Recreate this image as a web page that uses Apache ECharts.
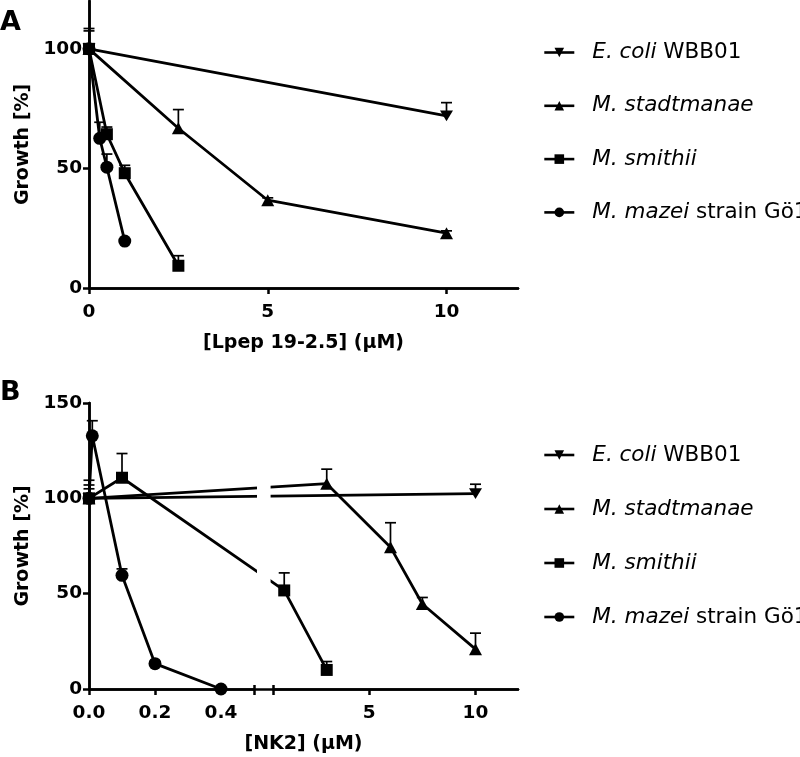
<!DOCTYPE html>
<html>
<head>
<meta charset="utf-8">
<script src="https://cdn.jsdelivr.net/npm/echarts@6/dist/echarts.min.js"></script>
<style>
html,body{margin:0;padding:0;background:#fff;}
#chart{width:800px;height:757px;}
</style>
</head>
<body>
<div id="chart"></div>
<script>
// ---------- DATA ----------
const seriesNames = ['E. coli WBB01', 'M. stadtmanae', 'M. smithii', 'M. mazei strain Gö1'];

// Panel A: [Lpep 19-2.5] (µM)
const ecoliA_x = [0, 10];
const ecoliA_y = [100, 72];
const ecoliA_err = [8.5, 5.5];
const stadA_x = [0, 2.5, 5, 10];
const stadA_y = [100, 66.8, 36.7, 22.9];
const stadA_err = [7.5, 7.8, 1, 1];
const smithA_x = [0, 0.5, 1, 2.5];
const smithA_y = [100, 64.3, 48, 9.3];
const smithA_err = [2, 3, 3.3, 4.2];
const mazeiA_x = [0, 0.3, 0.5, 1];
const mazeiA_y = [100, 62.6, 50.5, 19.6];
const mazeiA_err = [1, 6.7, 5.5, 0];

// Panel B: [NK2] (µM)
const ecoliB_x = [0, 10];
const ecoliB_y = [100, 102.5];
const ecoliB_err = [9.5, 4.9];
const stadB_x = [0, 3, 6, 7.5, 10];
const stadB_y = [100, 107.7, 74.4, 44.6, 20.9];
const stadB_err = [7, 7.6, 12.8, 3.4, 8.4];
const smithB_x = [0, 0.1, 1, 3];
const smithB_y = [100, 110.8, 51.7, 10];
const smithB_err = [5, 12.7, 9.2, 4.4];
const mazeiB_x = [0, 0.01, 0.1, 0.2, 0.4];
const mazeiB_y = [100, 132.8, 59.6, 13.3, 0];
const mazeiB_err = [0, 7.9, 3.4, 0, 0];

// Tick labels
const ticksA_x = [0, 5, 10];
const ticksA_y = [0, 50, 100];
const ticksB_y = [0, 50, 100, 150];
const ticksB_xLeft = [0, 0.2, 0.4];
const ticksB_xRight = [5, 10];

// ---------- LAYOUT ----------
const FONT = 'DejaVu Sans';
const GL = 89;            // grid left
const GW = 429;           // grid width
const A_TOP = 1, A_H = 287;
const B_TOP = 403, B_H = 286;
// broken x axis in panel B: segment [0,0.5] and [0.5,12]
const BRK = 0.5, XMAX_B = 12;
const L_W = 165, GAP = 19.6, R_W = GW - L_W - GAP;
function U(x) { // piecewise-linear broken-axis coordinate
  return x <= BRK ? x / BRK * L_W : L_W + GAP + (x - BRK) / (XMAX_B - BRK) * R_W;
}

const AX_W = 2.5;
const black = '#000';

function zip(xs, ys, tf) { return xs.map((x, i) => [tf ? tf(x) : x, ys[i]]); }
function zipErr(xs, ys, es, tf) { return xs.map((x, i) => [tf ? tf(x) : x, ys[i], es[i]]); }

function errRender(params, api) {
  const x = api.value(0), y = api.value(1), e = api.value(2);
  if (!(e > 0)) return null;
  const p0 = api.coord([x, y]);
  const p1 = api.coord([x, y + e]);
  const hw = 5.5;
  const st = { stroke: black, lineWidth: 1.7 };
  return {
    type: 'group', children: [
      { type: 'line', shape: { x1: p0[0], y1: p0[1], x2: p1[0], y2: p1[1] }, style: st },
      { type: 'line', shape: { x1: p1[0] - hw, y1: p1[1], x2: p1[0] + hw, y2: p1[1] }, style: st }
    ]
  };
}

const symbols = ['path://M0,0L10,0L5,9Z', 'triangle', 'rect', 'circle'];
const symSizes = [[13, 12], [13, 12], 12, 13];

function lineSeries(name, idx, data, xi, yi) {
  return {
    type: 'line', name: name, xAxisIndex: xi, yAxisIndex: yi, data: data,
    symbol: symbols[idx], symbolSize: symSizes[idx], symbolKeepAspect: true,
    showSymbol: true, showAllSymbol: true,
    lineStyle: { color: black, width: 2.8 },
    itemStyle: { color: black, borderWidth: 0 },
    z: 3, clip: false, silent: true
  };
}
function errSeries(data, xi, yi) {
  return {
    type: 'custom', xAxisIndex: xi, yAxisIndex: yi, data: data,
    renderItem: errRender, z: 2, silent: true, clip: false,
    dimensions: ['x', 'y', 'e'], encode: { x: 0, y: 1 }
  };
}

const tickLabel = { fontFamily: FONT, fontWeight: 'bold', fontSize: 18.5, color: black };
const nameStyle = { fontFamily: FONT, fontWeight: 'bold', fontSize: 19, color: black };
const lineAx = { show: true, lineStyle: { color: black, width: AX_W } };
const frameX = (gi, min, max) => ({
  gridIndex: gi, type: 'value', position: 'top', min: min, max: max,
  axisLine: lineAx, axisTick: { show: false }, axisLabel: { show: false }, splitLine: { show: false }
});
const frameY = (gi, min, max) => ({
  gridIndex: gi, type: 'value', position: 'right', min: min, max: max,
  axisLine: lineAx, axisTick: { show: false }, axisLabel: { show: false }, splitLine: { show: false }
});
const hiddenY = (gi) => ({ gridIndex: gi, type: 'value', min: 0, max: 150, show: false });

const legendBase = {
  orient: 'vertical', left: 538, itemWidth: 30, itemHeight: 12,
  data: seriesNames, selectedMode: false,
  lineStyle: { color: black, width: 2.6 },
  itemStyle: { color: black },
  textStyle: {
    fontFamily: FONT, fontSize: 21.5, color: black, lineHeight: 26, padding: [0, 0, 0, 13],
    rich: { i: { fontFamily: FONT, fontSize: 21.5, fontStyle: 'italic', color: black, lineHeight: 26 } }
  },
  formatter: function (n) {
    if (n === 'E. coli WBB01') return '{i|E. coli} WBB01';
    if (n === 'M. mazei strain Gö1') return '{i|M. mazei} strain Gö1';
    return '{i|' + n + '}';
  }
};

const option = {
  animation: false,
  backgroundColor: '#fff',
  grid: [
    { left: GL, top: A_TOP, width: GW, height: A_H },
    { left: GL, top: B_TOP, width: GW, height: B_H },
    { left: GL, top: B_TOP, width: L_W, height: B_H },
    { left: GL + L_W + GAP, top: B_TOP, width: R_W, height: B_H }
  ],
  xAxis: [
    { // 0: A bottom
      gridIndex: 0, type: 'value', position: 'bottom', min: 0, max: 12,
      axisLine: lineAx,
      axisTick: { show: true, length: 6, lineStyle: { color: black, width: AX_W }, customValues: ticksA_x },
      axisLabel: Object.assign({ customValues: ticksA_x, margin: 15 }, tickLabel),
      splitLine: { show: false },
      name: '[Lpep 19-2.5] (µM)', nameLocation: 'middle', nameGap: 46, nameTextStyle: nameStyle
    },
    frameX(0, 0, 12), // 1
    { // 2: B data axis (broken coordinate), only name shown
      gridIndex: 1, type: 'value', position: 'bottom', min: 0, max: GW,
      axisLine: { show: false }, axisTick: { show: false }, axisLabel: { show: false }, splitLine: { show: false },
      name: '[NK2] (µM)', nameLocation: 'middle', nameGap: 46, nameTextStyle: nameStyle
    },
    frameX(1, 0, GW), // 3
    { // 4: B left segment
      gridIndex: 2, type: 'value', position: 'bottom', min: 0, max: BRK,
      axisLine: lineAx,
      axisTick: { show: true, length: 6, lineStyle: { color: black, width: AX_W }, customValues: ticksB_xLeft.concat([BRK]) },
      axisLabel: Object.assign({ customValues: ticksB_xLeft, margin: 15, formatter: v => v.toFixed(1) }, tickLabel),
      splitLine: { show: false }
    },
    { // 5: break cap (inside part)
      gridIndex: 2, type: 'value', position: 'bottom', min: 0, max: BRK,
      axisLine: { show: false },
      axisTick: { show: true, inside: true, length: 4, lineStyle: { color: black, width: AX_W }, customValues: [BRK] },
      axisLabel: { show: false }, splitLine: { show: false }
    },
    { // 6: B right segment
      gridIndex: 3, type: 'value', position: 'bottom', min: BRK, max: XMAX_B,
      axisLine: lineAx,
      axisTick: { show: true, length: 6, lineStyle: { color: black, width: AX_W }, customValues: [BRK].concat(ticksB_xRight) },
      axisLabel: Object.assign({ customValues: ticksB_xRight, margin: 15 }, tickLabel),
      splitLine: { show: false }
    },
    { // 7: break cap (inside part)
      gridIndex: 3, type: 'value', position: 'bottom', min: BRK, max: XMAX_B,
      axisLine: { show: false },
      axisTick: { show: true, inside: true, length: 4, lineStyle: { color: black, width: AX_W }, customValues: [BRK] },
      axisLabel: { show: false }, splitLine: { show: false }
    }
  ],
  yAxis: [
    { // 0: A left
      gridIndex: 0, type: 'value', position: 'left', min: 0, max: 120,
      axisLine: lineAx,
      axisTick: { show: true, length: 6, lineStyle: { color: black, width: AX_W }, customValues: ticksA_y },
      axisLabel: Object.assign({ customValues: ticksA_y, margin: 7 }, tickLabel),
      splitLine: { show: false },
      name: 'Growth [%]', nameLocation: 'middle', nameGap: 55, nameTextStyle: nameStyle
    },
    frameY(0, 0, 120), // 1
    { // 2: B left
      gridIndex: 1, type: 'value', position: 'left', min: 0, max: 150,
      axisLine: lineAx,
      axisTick: { show: true, length: 6, lineStyle: { color: black, width: AX_W }, customValues: ticksB_y },
      axisLabel: Object.assign({ customValues: ticksB_y, margin: 7 }, tickLabel),
      splitLine: { show: false },
      name: 'Growth [%]', nameLocation: 'middle', nameGap: 55, nameTextStyle: nameStyle
    },
    frameY(1, 0, 150), // 3
    hiddenY(2), // 4
    hiddenY(3)  // 5
  ],
  legend: [
    Object.assign({}, legendBase, { top: 34.5, itemGap: 27.3 }),
    Object.assign({}, legendBase, { top: 437, itemGap: 28 })
  ],
  graphic: [
    { type: 'text', left: 0, top: 9, z: 100,
      style: { text: 'A', font: 'bold 27px "DejaVu Sans"', fill: black } },
    { type: 'text', left: 0, top: 379, z: 100,
      style: { text: 'B', font: 'bold 27px "DejaVu Sans"', fill: black } },
    { // white gap where plotted lines cross the axis break
      type: 'rect', z: 100, silent: true,
      shape: { x: GL + L_W + 3, y: B_TOP + 2, width: GAP - 6, height: B_H - 4 },
      style: { fill: '#fff' }
    }
  ],
  series: [
    lineSeries(seriesNames[0], 0, zip(ecoliA_x, ecoliA_y), 0, 0),
    lineSeries(seriesNames[1], 1, zip(stadA_x, stadA_y), 0, 0),
    lineSeries(seriesNames[2], 2, zip(smithA_x, smithA_y), 0, 0),
    lineSeries(seriesNames[3], 3, zip(mazeiA_x, mazeiA_y), 0, 0),
    errSeries(zipErr(ecoliA_x, ecoliA_y, ecoliA_err), 0, 0),
    errSeries(zipErr(stadA_x, stadA_y, stadA_err), 0, 0),
    errSeries(zipErr(smithA_x, smithA_y, smithA_err), 0, 0),
    errSeries(zipErr(mazeiA_x, mazeiA_y, mazeiA_err), 0, 0),

    lineSeries(seriesNames[0], 0, zip(ecoliB_x, ecoliB_y, U), 2, 2),
    lineSeries(seriesNames[1], 1, zip(stadB_x, stadB_y, U), 2, 2),
    lineSeries(seriesNames[2], 2, zip(smithB_x, smithB_y, U), 2, 2),
    lineSeries(seriesNames[3], 3, zip(mazeiB_x, mazeiB_y, U), 2, 2),
    errSeries(zipErr(ecoliB_x, ecoliB_y, ecoliB_err, U), 2, 2),
    errSeries(zipErr(stadB_x, stadB_y, stadB_err, U), 2, 2),
    errSeries(zipErr(smithB_x, smithB_y, smithB_err, U), 2, 2),
    errSeries(zipErr(mazeiB_x, mazeiB_y, mazeiB_err, U), 2, 2)
  ]
};

const chart = echarts.init(document.getElementById('chart'), null, { renderer: 'canvas' });
chart.setOption(option);
</script>
</body>
</html>
